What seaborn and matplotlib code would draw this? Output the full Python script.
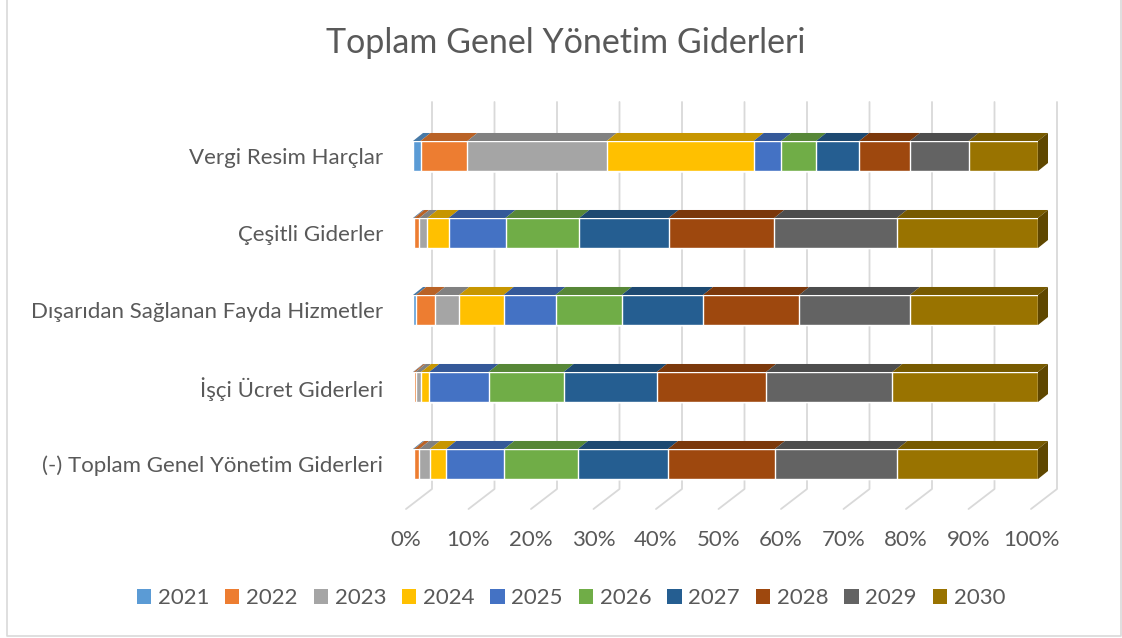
import numpy as np
import pandas as pd
import matplotlib
matplotlib.use('Agg')
import matplotlib.pyplot as plt
import seaborn as sns
from matplotlib.patches import Patch, Polygon
from matplotlib.colors import to_rgb

# Data (percent share of each year per category)
categories = [
    'Vergi Resim Harçlar',
    'Çeşitli Giderler',
    'Dışarıdan Sağlanan Fayda Hizmetler',
    'İşçi Ücret Giderleri',
    '(-) Toplam Genel Yönetim Giderleri',
]
years = ['2021', '2022', '2023', '2024', '2025', '2026', '2027', '2028', '2029', '2030']
share_vergi = [1.2, 7.5, 22.3, 23.5, 4.4, 5.6, 6.9, 8.1, 9.4, 11.1]
share_cesitli = [0.2, 0.8, 1.3, 3.4, 9.1, 11.8, 14.3, 16.9, 19.6, 22.6]
share_disaridan = [0.5, 3.0, 3.9, 7.1, 8.3, 10.6, 13.0, 15.4, 17.7, 20.5]
share_isci = [0.1, 0.3, 0.9, 1.3, 9.5, 12.0, 14.9, 17.5, 20.2, 23.3]
share_toplam = [0.2, 0.8, 1.7, 2.6, 9.3, 11.8, 14.4, 17.1, 19.6, 22.5]
x_ticks = [0, 10, 20, 30, 40, 50, 60, 70, 80, 90, 100]

colors = ['#5B9BD5', '#ED7D31', '#A5A5A5', '#FFC000', '#4472C4',
          '#70AD47', '#255E91', '#9E480E', '#636363', '#997300']
text_color = '#595959'

sns.set_style('white')
plt.rcParams['font.family'] = ['Lato', 'DejaVu Sans']

shares = np.array([share_vergi, share_cesitli, share_disaridan, share_isci, share_toplam])
shares = shares / shares.sum(axis=1, keepdims=True) * 100
cum = shares.cumsum(axis=1)

W, H = 1122, 638
fig = plt.figure(figsize=(W / 100, H / 100), dpi=100)

# axes: 0% at x=413 px, 100% at x=1038 px; category centres 156..464 px
ax_left, ax_right = 413, 1038
ax_top, ax_bot = 117.5, 502.5
ax = fig.add_axes([ax_left / W, 1 - ax_bot / H, (ax_right - ax_left) / W, (ax_bot - ax_top) / H])

px_x = 100 / (ax_right - ax_left)      # data units per pixel (x)
px_y = 5 / (ax_bot - ax_top)           # data units per pixel (y)
y0_px = 156                            # centre of first category

def ypx(p):
    return (p - y0_px) * px_y

# gridlines (back wall + slanted floor)
for t in x_ticks:
    xs = [t + 19 * px_x, t + 19 * px_x, t - 7 * px_x]
    ys = [ypx(102), ypx(489), ypx(509)]
    ax.plot(xs, ys, color='#D9D9D9', lw=1.3, clip_on=False, zorder=0)
    ax.text(t - 7 * px_x, ypx(540), f'{t}%', ha='center', va='center',
            fontsize=16, color=text_color, clip_on=False)

bar_h = 0.39
df = pd.DataFrame({'category': categories})
for i in range(len(years) - 1, -1, -1):
    df['cum'] = cum[:, i]
    sns.barplot(data=df, y='category', x='cum', orient='h', color=colors[i],
                saturation=1, width=bar_h, errorbar=None, ax=ax, zorder=2)

# 3D top faces and right side
dx, dy = 10 * px_x, 8 * px_y
for r in range(len(categories)):
    top = r - bar_h / 2
    for i in range(len(years)):
        left = cum[r, i] - shares[r, i]
        right = cum[r, i]
        c = np.array(to_rgb(colors[i])) * 0.78
        ax.add_patch(Polygon([(left, top), (right, top), (right + dx, top - dy), (left + dx, top - dy)],
                             closed=True, facecolor=c, edgecolor='none', zorder=3, clip_on=False))
    c = np.array(to_rgb(colors[-1])) * 0.62
    ax.add_patch(Polygon([(100, top), (100 + dx, top - dy), (100 + dx, top + bar_h - dy), (100, top + bar_h)],
                         closed=True, facecolor=c, edgecolor='none', zorder=3, clip_on=False))

ax.set_xlim(0, 100)
ax.set_ylim(4.5, -0.5)
ax.set_xlabel('')
ax.set_ylabel('')
ax.set_xticks([])
ax.tick_params(axis='y', length=0, pad=21.6, labelsize=16, labelcolor=text_color)
for s in ax.spines.values():
    s.set_visible(False)
ax.patch.set_alpha(0)

fig.text(566 / W, 1 - 43 / H, 'Toplam Genel Yönetim Giderleri', ha='center', va='center',
         fontsize=24.5, color=text_color)

handles = [Patch(facecolor=c, edgecolor='none') for c in colors]
fig.legend(handles, years, loc='center', bbox_to_anchor=(571 / W, 1 - 598 / H), ncol=10,
           frameon=False, fontsize=16, labelcolor=text_color, handlelength=0.64,
           handleheight=0.64, handletextpad=0.3, columnspacing=0.72)

# chart border
fig.add_artist(plt.Line2D([6.5 / W, 6.5 / W, 1121 / W, 1121 / W], [1, 1 - 636 / H, 1 - 636 / H, 1],
                          color='#D9D9D9', lw=1.2))

fig.savefig('out.png', dpi=100)
